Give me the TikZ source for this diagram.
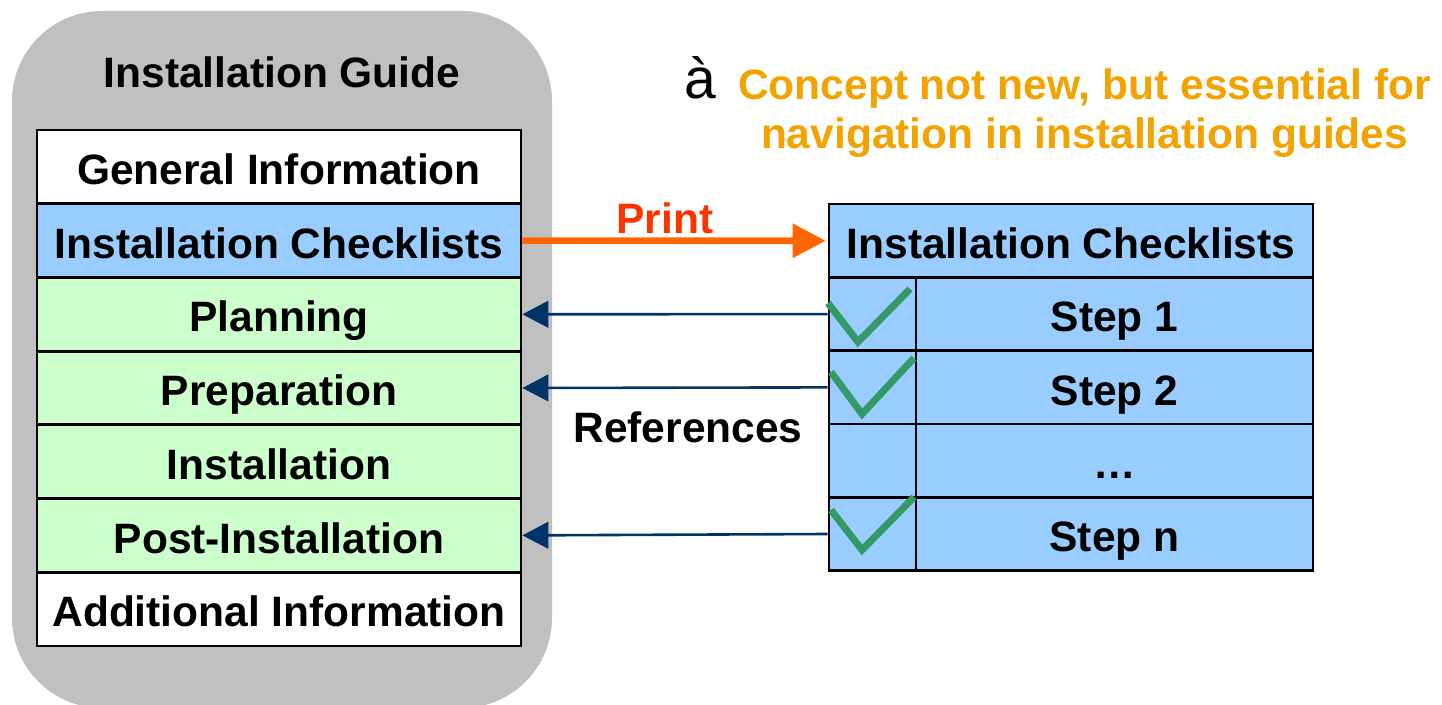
\documentclass[tikz,border=0pt]{standalone}
\usepackage{fontspec}
\setmainfont{Liberation Sans}
\usetikzlibrary{arrows.meta}
\definecolor{guidegray}{HTML}{C0C0C0}
\definecolor{rowgreen}{HTML}{CCFFCC}
\definecolor{rowblue}{HTML}{99CCFF}
\definecolor{printarrow}{HTML}{FF6600}
\definecolor{printtext}{HTML}{FF3300}
\definecolor{refnavy}{HTML}{003366}
\definecolor{checkgreen}{HTML}{339966}
\definecolor{noteorange}{RGB}{242,163,0}
\begin{document}
\begin{tikzpicture}[x=0.5pt,y=-0.5pt,
  txt/.style={font=\fontsize{21.25}{25}\selectfont\bfseries, text height=15.2pt, text depth=0pt, inner sep=0pt},
  row/.style={txt, text height=17.7pt, draw=black, line width=1.4pt, minimum width=242pt, minimum height=36.85pt},
  cell/.style={txt, text height=17.7pt, draw=black, line width=1.4pt, fill=rowblue, minimum height=36.65pt},
  checkcell/.style={cell, minimum width=43.5pt},
  stepcell/.style={cell, minimum width=198.5pt},
  refarrow/.style={draw=refnavy, line width=1.3pt, -{Triangle[length=13pt,width=13.3pt]}},
  printarr/.style={draw=printarrow, line width=3.3pt, -{Triangle[length=16.5pt,width=16.5pt]}, shorten >=1pt},
  check/.style={draw=checkgreen, line width=3.5pt, line join=miter},
  note/.style={font=\fontsize{21.25}{25}\selectfont\bfseries, text=noteorange, inner sep=0pt, anchor=base}
]
\useasboundingbox (0,0) rectangle (1442,705);
\begin{scope}
\clip (0,0) rectangle (1442,705);
\fill[guidegray, rounded corners=45pt] (12,11) rectangle (552,708);
\end{scope}

\node[txt] (title) at (282,72.5) {Installation Guide};

\node[row, fill=white]    (gen)  at (279,166.9) {General Information};
\node[row, fill=rowblue]  (ic)   at (279,240.6) {Installation Checklists};
\node[row, fill=rowgreen] (plan) at (279,314.3) {Planning};
\node[row, fill=rowgreen] (prep) at (279,388.0) {Preparation};
\node[row, fill=rowgreen] (inst) at (279,461.7) {Installation};
\node[row, fill=rowgreen] (post) at (279,535.4) {Post-Installation};
\node[row, fill=white]    (add)  at (279,609.1) {Additional Information};

\node[cell, minimum width=242pt, minimum height=36.75pt] (hdr) at (1071,240.8) {Installation Checklists};
\node[checkcell] (c1) at (872.5,314.1) {};
\node[checkcell] (c2) at (872.5,387.4) {};
\node[checkcell] (c3) at (872.5,460.7) {};
\node[checkcell] (cn) at (872.5,534.0) {};
\node[stepcell] (s1) at (1114.5,314.1) {Step 1};
\node[stepcell] (s2) at (1114.5,387.4) {Step 2};
\node[stepcell] (s3) at (1114.5,460.7) {…};
\node[stepcell] (sn) at (1114.5,534.0) {Step n};

\draw[printarr] (ic.east) -- (hdr.west);
\node[txt, text=printtext] (print) at (665,218) {Print};

\draw[refarrow] (c1.west) -- (plan.east);
\draw[refarrow] (c2.west) -- (prep.east);
\draw[refarrow] (cn.west) -- (post.east);
\node[txt] (refs) at (688,427) {References};

\draw[check] (828,303) -- (858,342) -- (910,289);
\draw[check] (831,372) -- (862,414) -- (914,358);
\draw[check] (831,510) -- (862,550) -- (914,497);

\node[font=\fontsize{28.5}{32}\selectfont, inner sep=0pt, anchor=base east] (arrowmark) at (717,99) {à};
\node[note] (note1) at (1084.5,100) {Concept not new, but essential for};
\node[note] (note2) at (1084.5,149) {navigation in installation guides};
\end{tikzpicture}
\end{document}
